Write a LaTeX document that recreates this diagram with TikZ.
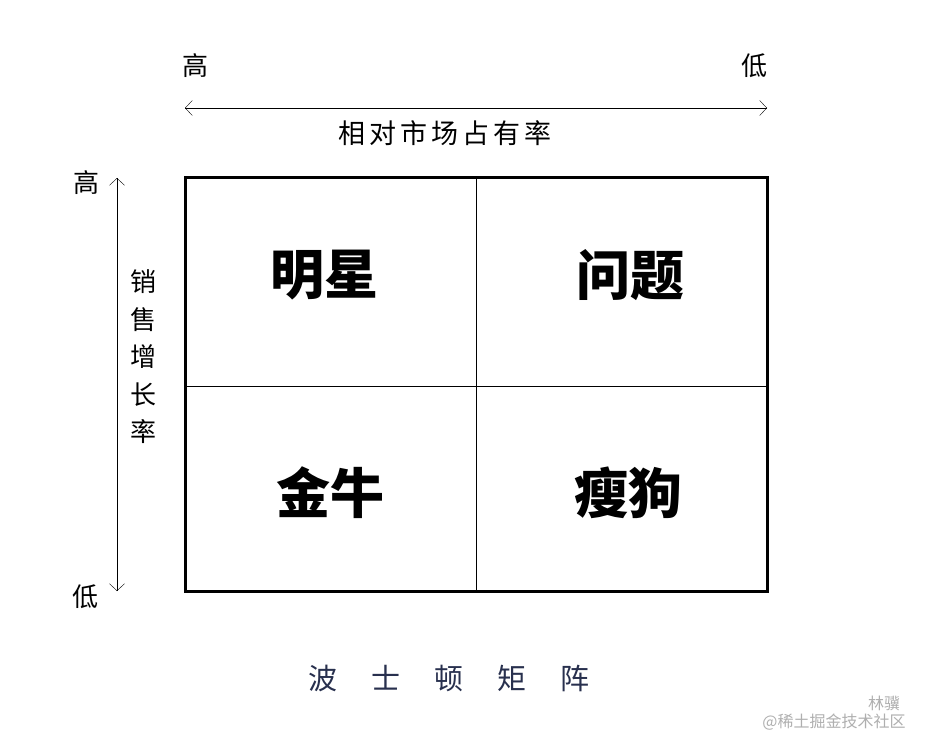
\documentclass[tikz,border=0pt]{standalone}
\usepackage{fontspec}
\usepackage{tikz}
\usetikzlibrary{positioning,arrows.meta}
\newfontfamily\cjk{Noto Sans CJK SC}
\definecolor{bcgnavy}{RGB}{40,48,78}
\definecolor{bcgmark}{RGB}{175,175,175}

\begin{document}
\begin{tikzpicture}[x=1pt,y=-1pt,
  axislabel/.style={font=\cjk\fontsize{26}{26}\selectfont,inner sep=0pt},
  quadlabel/.style={font=\cjk\bfseries\fontsize{54}{54}\selectfont,inner sep=0pt},
  axisarrow/.style={thin,{Straight Barb[length=7pt,width=15pt]}-{Straight Barb[length=7pt,width=15pt]}}]
\useasboundingbox[fill=white] (0,0) rectangle (936,751);

% Matrix
\draw[line width=3pt] (185,178) rectangle (767,591);
\draw[thin] (476,178) -- (476,591);
\draw[thin] (185,386) -- (767,386);

% Quadrants
\node[quadlabel] (star) at (324,275) {明星};
\node[quadlabel] (question) at (630,275) {问题};
\node[quadlabel] (cow) at (330,493) {金牛};
\node[quadlabel] (dog) at (628,493) {瘦狗};

% Horizontal axis
\node[axislabel] (sharehigh) at (195,66) {高};
\node[axislabel] (sharelow) at (754,66) {低};
\coordinate (shareleft) at (185,108);
\coordinate (shareright) at (767,108);
\draw[axisarrow] (shareleft) -- (shareright);
\node[axislabel,font=\cjk\fontsize{27}{27}\selectfont\addfontfeature{LetterSpace=15}] (sharetext) at (445,133) {相对市场占有率};

% Vertical axis
\node[axislabel] (growhigh) at (86,183) {高};
\node[axislabel] (growlow) at (85,597) {低};
\coordinate (growtop) at (117,178);
\coordinate (growbottom) at (117,591);
\draw[axisarrow] (growtop) -- (growbottom);
\node[axislabel,align=center,font=\cjk\fontsize{26}{37.5}\selectfont] (growtext) at (143,357) {销\\售\\增\\长\\率};

% Title
\node[axislabel,text=bcgnavy,font=\cjk\fontsize{29}{29}\selectfont] (title) at (449,678) {波\hspace{34pt}士\hspace{34pt}顿\hspace{34pt}矩\hspace{34pt}阵};

% Watermark
\node[inner sep=0pt,text=bcgmark,font=\cjk\fontsize{16}{16}\selectfont] (markname) at (884,703) {林骥};
\node[inner sep=0pt,text=bcgmark,font=\cjk\fontsize{16}{16}\selectfont] (marksite) at (834,722) {@稀土掘金技术社区};
\end{tikzpicture}
\end{document}
